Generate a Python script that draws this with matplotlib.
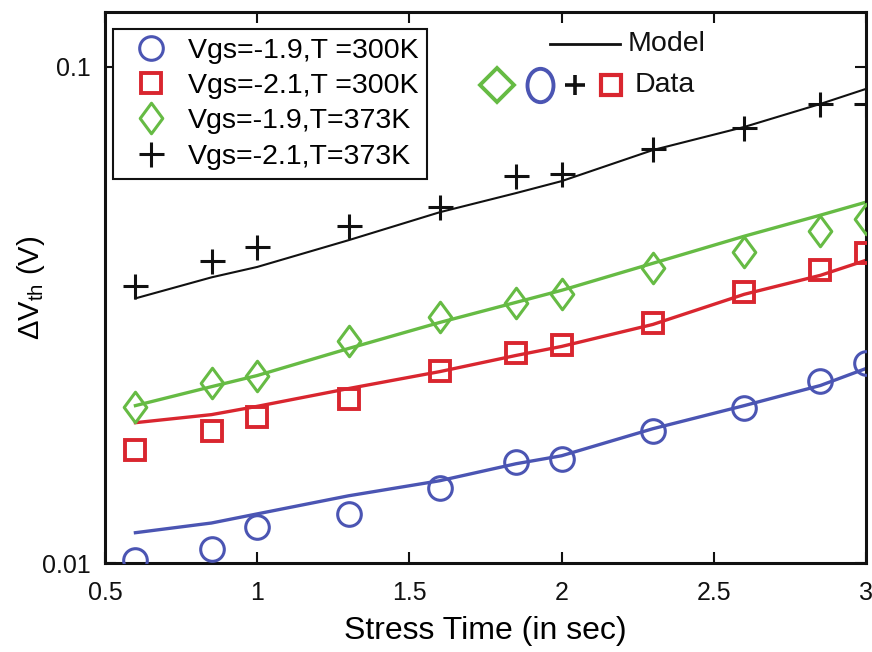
import numpy as np
import matplotlib
matplotlib.use('Agg')
import matplotlib.pyplot as plt
from matplotlib.lines import Line2D
from matplotlib.path import Path
from matplotlib.transforms import Affine2D

plt.rcParams['font.family'] = ['Liberation Sans', 'DejaVu Sans']
plt.rcParams['mathtext.fontset'] = 'custom'
plt.rcParams['mathtext.rm'] = 'Liberation Sans'
plt.rcParams['mathtext.it'] = 'Liberation Sans:italic'

# ── data ──
stress_time = [0.6, 0.85, 1.0, 1.3, 1.6, 1.85, 2.0, 2.3, 2.6, 2.85, 3.0]

data_19_300 = [0.01014, 0.01067, 0.01184, 0.01256, 0.01419, 0.01595,
               0.01622, 0.01848, 0.02057, 0.02332, 0.02535]
data_21_300 = [0.01691, 0.01842, 0.01966, 0.02145, 0.02435, 0.02648,
               0.02745, 0.03040, 0.03513, 0.03890, 0.04210]
data_19_373 = [0.02060, 0.02310, 0.02387, 0.02796, 0.03131, 0.03341,
               0.03480, 0.03926, 0.04236, 0.04664, 0.04932]
data_21_373 = [0.03616, 0.04062, 0.04328, 0.04780, 0.05215, 0.06025,
               0.06080, 0.06829, 0.07541, 0.08419, 0.08419]

model_19_300 = [0.01151, 0.01204, 0.01256, 0.01366, 0.01465, 0.01585,
                0.01645, 0.01865, 0.02076, 0.02279, 0.02466]
model_21_300 = [0.01918, 0.01991, 0.02069, 0.02247, 0.02431, 0.02620,
                0.02732, 0.03026, 0.03480, 0.03800, 0.04075]
model_19_373 = [0.02076, 0.02267, 0.02387, 0.02706, 0.03054, 0.03352,
                0.03545, 0.04019, 0.04557, 0.05024, 0.05337]
model_21_373 = [0.03415, 0.03765, 0.03951, 0.04473, 0.05094, 0.05566,
                0.05884, 0.06797, 0.07566, 0.08419, 0.09028]

labels = ['Vgs=-1.9,T =300K', 'Vgs=-2.1,T =300K',
          'Vgs=-1.9,T=373K', 'Vgs=-2.1,T=373K']

BLUE = '#4b55b3'
RED = '#d9262f'
GREEN = '#66bb44'
BLACK = '#111111'

# 菱形 (MATLAB 风格, 略窄)
_dv = [(0, 1), (0.74, 0), (0, -1), (-0.74, 0), (0, 1)]
DIAMOND = Path(_dv, [Path.MOVETO, Path.LINETO, Path.LINETO, Path.LINETO, Path.CLOSEPOLY])
# 竖椭圆 (Data 行里的 O)
ELLIPSE = Affine2D().scale(0.78, 1.0).transform_path(Path.unit_circle())

series = [
    (data_19_300, model_19_300, BLUE, 'o', 17, 2.2),
    (data_21_300, model_21_300, RED, 's', 14, 2.8),
    (data_19_373, model_19_373, GREEN, DIAMOND, 22, 2.2),
    (data_21_373, model_21_373, BLACK, '+', 18, 2.2),
]

fig = plt.figure(figsize=(8.72, 6.52), dpi=100)
ax = fig.add_axes([0.1204, 0.1365, 0.8727, 0.8451])

handles = []
for (d, m, c, mk, ms, mew), lbl in zip(series, labels):
    lw = 1.5 if c == BLACK else 2.4
    ax.plot(stress_time, m, color=c, linewidth=lw, zorder=2)
    ax.plot(stress_time, d, linestyle='none', marker=mk, markersize=ms,
            markerfacecolor='none', markeredgecolor=c, markeredgewidth=mew,
            zorder=3, clip_on=True)
    handles.append(Line2D([0], [0], linestyle='none', marker=mk, markersize=ms,
                          markerfacecolor='none', markeredgecolor=c,
                          markeredgewidth=mew, label=lbl))

ax.set_yscale('log')
ax.set_xlim(0.5, 3.0)
ax.set_ylim(0.01, 0.129)
ax.set_xticks([0.5, 1, 1.5, 2, 2.5, 3])
ax.set_xticklabels(['0.5', '1', '1.5', '2', '2.5', '3'])
ax.set_yticks([0.01, 0.1])
ax.set_yticklabels(['0.01', '0.1'])
ax.yaxis.set_minor_locator(matplotlib.ticker.NullLocator())

ax.tick_params(direction='in', length=8, width=1.5, labelsize=18,
               top=True, right=True, pad=10, colors='#111111')
ax.tick_params(axis='x', pad=13)
for sp in ax.spines.values():
    sp.set_linewidth(2.2)
    sp.set_color('#111111')

ax.set_xlabel('Stress Time (in sec)', fontsize=23, labelpad=8)
ax.set_ylabel(r'ΔV$_{\rm th}$ (V)', fontsize=21, labelpad=-3)

leg = ax.legend(handles=handles, loc='upper left',
                bbox_to_anchor=(0.0105, 0.969), borderaxespad=0,
                fontsize=20.5, frameon=True, fancybox=False, framealpha=1,
                edgecolor='#111111', handlelength=2.0, handletextpad=0.3,
                labelspacing=0.32, borderpad=0.32)
leg.get_frame().set_linewidth(1.5)

# Model / Data 标注
ax.plot([0.585, 0.677], [0.942, 0.942], transform=ax.transAxes,
        color=BLACK, linewidth=2.0, clip_on=False)
ax.text(0.687, 0.942, 'Model', transform=ax.transAxes, fontsize=20.5,
        va='center', ha='left', color='#111111')
row_y = 0.8675
row_marks = [
    (0.515, 'D', GREEN, 17, 2.8),
    (0.572, ELLIPSE, BLUE, 24, 2.8),
    (0.618, '+', BLACK, 15, 2.6),
    (0.665, 's', RED, 15, 3.0),
]
for x, mk, c, ms, mew in row_marks:
    ax.plot([x], [row_y], transform=ax.transAxes, linestyle='none', marker=mk,
            markersize=ms, markerfacecolor='none', markeredgecolor=c,
            markeredgewidth=mew, clip_on=False)
ax.text(0.6965, row_y, 'Data', transform=ax.transAxes, fontsize=20.5,
        va='center', ha='left', color='#111111')

fig.savefig('out.png', dpi=100)
